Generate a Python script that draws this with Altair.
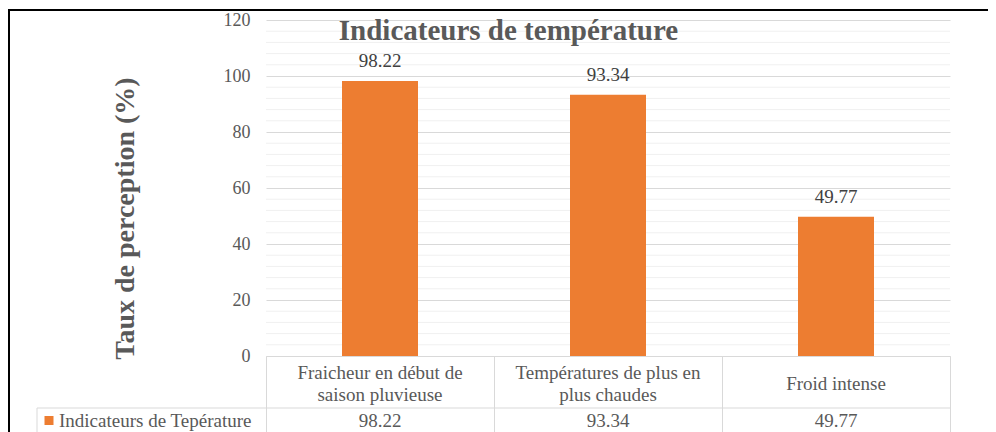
import altair as alt
import pandas as pd

# ---- data ----
categories = [
    "Fraicheur en début de\nsaison pluvieuse",
    "Températures de plus en\nplus chaudes",
    "Froid intense",
]
values = [98.22, 93.34, 49.77]
series_name = "Indicateurs de Tepérature"
chart_title = "Indicateurs de température"
y_title = "Taux de perception (%)"
y_major_ticks = [0, 20, 40, 60, 80, 100, 120]
y_minor_ticks = [4, 8, 12, 16, 24, 28, 32, 36, 44, 48, 52, 56, 64, 68, 72, 76,
                 84, 88, 92, 96, 104, 108, 112, 116]

df = pd.DataFrame({"cat": categories, "val": values})
df["label"] = df["val"].map(lambda v: f"{v:.2f}")
minor_df = pd.DataFrame({"v": y_minor_ticks})
one_df = pd.DataFrame({"series": [series_name], "title": [chart_title]})

FONT = "Liberation Serif"
GRAY = "#595959"
DARK = "#404040"
LINE = "#d9d9d9"
MINOR = "#f0f0f0"
ORANGE = "#ED7D31"

x_main = alt.X(
    "cat:N",
    sort=categories,
    scale=alt.Scale(paddingInner=0, paddingOuter=0),
    axis=alt.Axis(
        title=None, labels=False, grid=False,
        domain=True, domainColor=LINE, domainWidth=1,
        ticks=True, tickBand="extent", tickSize=80, tickColor=LINE, tickWidth=1,
    ),
)
x_plain = alt.X("cat:N", sort=categories)

y_scale = alt.Scale(domain=[0, 120], nice=False)
y_main = alt.Y(
    "val:Q",
    scale=y_scale,
    axis=alt.Axis(
        values=y_major_ticks,
        grid=True, gridColor=LINE, gridWidth=1,
        ticks=False, domain=False,
        labelFont=FONT, labelFontSize=18, labelColor=GRAY, labelPadding=16,
        labelFlush=False,
        title=y_title, titleFont=FONT, titleFontSize=28, titleFontWeight="bold",
        titleColor=GRAY, titleAngle=270, titleX=-141, titleY=198,
        titleAlign="center", titleBaseline="middle",
    ),
)

minor_grid = alt.Chart(minor_df).mark_rule(color=MINOR, strokeWidth=1).encode(
    y=alt.Y("v:Q", scale=y_scale)
)

bars = alt.Chart(df).mark_bar(color=ORANGE, width=alt.RelativeBandSize(1 / 3)).encode(
    x=x_main, y=y_main
)

bar_labels = alt.Chart(df).mark_text(
    baseline="alphabetic", dy=-14, font=FONT, fontSize=19, color=DARK
).encode(x=x_plain, y=alt.Y("val:Q"), text="label:N")

title_txt = alt.Chart(one_df).mark_text(
    align="center", baseline="alphabetic", font=FONT, fontSize=29,
    fontWeight="bold", color=GRAY
).encode(x=alt.value(242.5), y=alt.value(20), text="title:N")

cat_two = alt.Chart(df).transform_filter(
    "indexof(datum.cat, '\\n') >= 0"
).mark_text(
    lineBreak="\n", baseline="middle", align="center",
    font=FONT, fontSize=19, lineHeight=22, color=GRAY
).encode(x=x_plain, y=alt.value(353), text="cat:N")

cat_one = alt.Chart(df).transform_filter(
    "indexof(datum.cat, '\\n') < 0"
).mark_text(
    baseline="middle", align="center", font=FONT, fontSize=19, color=GRAY
).encode(x=x_plain, y=alt.value(364), text="cat:N")

val_row = alt.Chart(df).mark_text(
    baseline="middle", align="center", font=FONT, fontSize=19, color=GRAY
).encode(x=x_plain, y=alt.value(401), text="label:N")

legend_sq = alt.Chart(one_df).mark_square(
    size=81, color=ORANGE, opacity=1, filled=True
).encode(x=alt.value(-217), y=alt.value(400.5))

legend_txt = alt.Chart(one_df).mark_text(
    align="left", baseline="middle", font=FONT, fontSize=19, color=GRAY
).encode(x=alt.value(-207), y=alt.value(401), text="series:N")

row_line = alt.Chart(one_df).mark_rule(color=LINE, strokeWidth=1).encode(
    x=alt.value(-229), x2=alt.value(684), y=alt.value(388)
)
left_cell = alt.Chart(one_df).mark_rule(color=LINE, strokeWidth=1).encode(
    x=alt.value(-229), y=alt.value(388), y2=alt.value(420)
)

frame_top = alt.Chart(one_df).mark_rule(color="black", strokeWidth=2).encode(
    x=alt.value(-258), x2=alt.value(740), y=alt.value(-10)
)
frame_left = alt.Chart(one_df).mark_rule(color="black", strokeWidth=2).encode(
    x=alt.value(-257), y=alt.value(-11), y2=alt.value(420)
)

chart = alt.layer(
    minor_grid, bars, title_txt, bar_labels, cat_two, cat_one, val_row,
    legend_sq, legend_txt, row_line, left_cell, frame_top, frame_left,
).properties(
    width=684,
    height=336,
    autosize=alt.AutoSizeParams(type="none"),
    padding={"left": 258, "top": 12, "right": 38, "bottom": 80},
).configure(background="white").configure_view(stroke="transparent", strokeOpacity=0)

chart.save("out.html", embed_options={"renderer": "svg", "actions": False})
